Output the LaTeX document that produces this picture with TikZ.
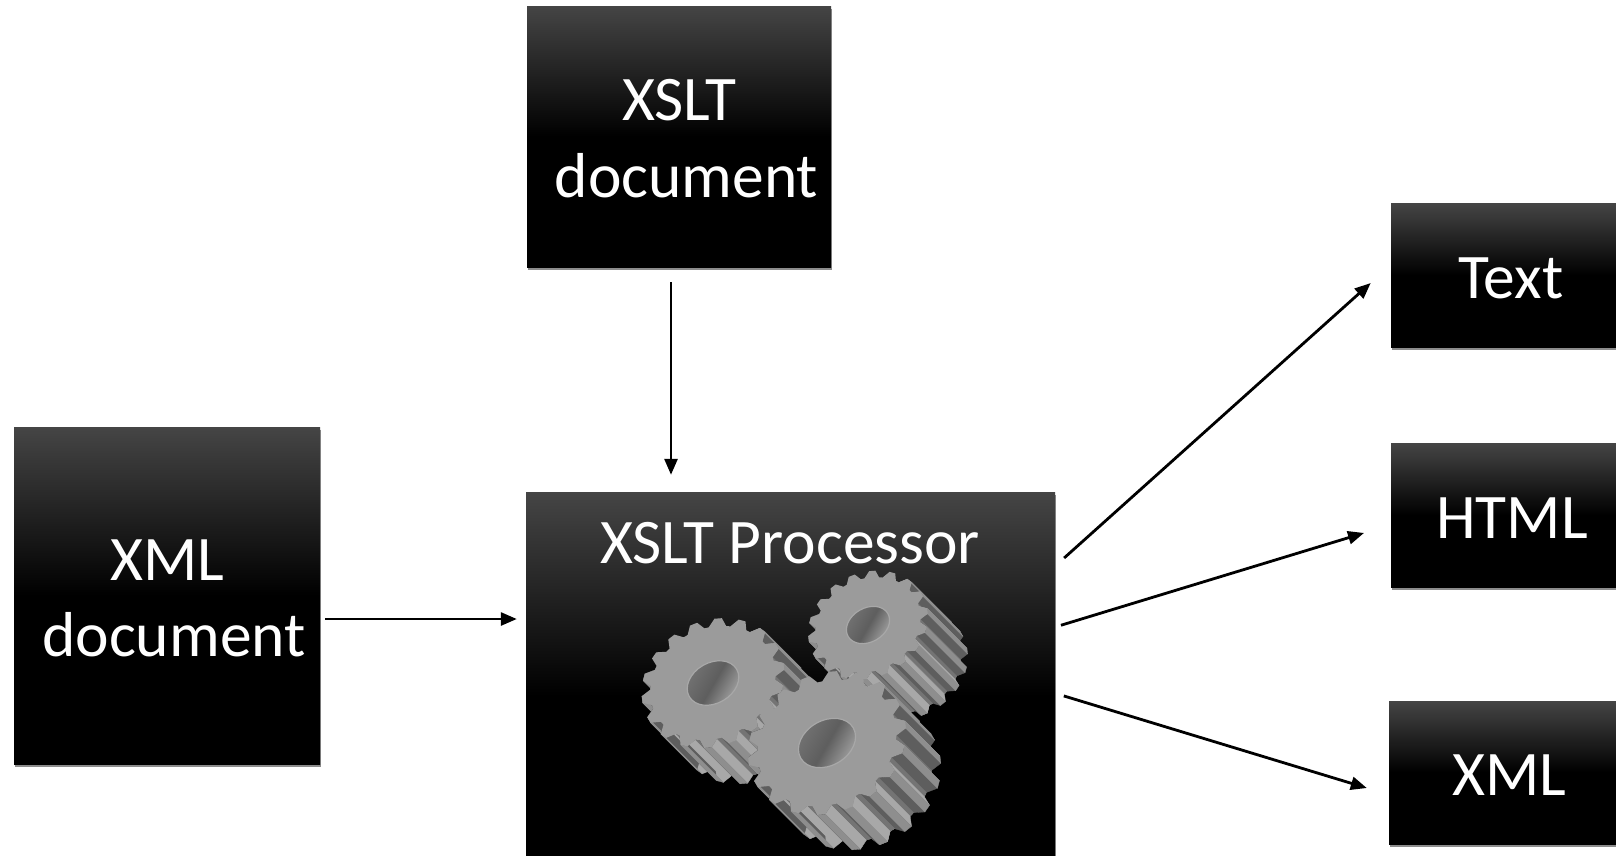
\documentclass[tikz,border=0pt]{standalone}
\usepackage{fontspec}
\setmainfont{Carlito}
\usetikzlibrary{arrows.meta,shadows}
\definecolor{boxtop}{HTML}{454545}
\definecolor{gearface}{HTML}{9B9B9B}
\definecolor{geartip}{HTML}{8E8E8E}
\definecolor{gearlight}{HTML}{A8A8A8}
\definecolor{geardark}{HTML}{5E5E5E}
\definecolor{gearvalley}{HTML}{747474}
\tikzset{
  docbox/.style={inner sep=0pt,top color=boxtop,bottom color=black,middle color=black,
    drop shadow={shadow xshift=1pt,shadow yshift=-3pt,opacity=.45,fill=black}},
  boxlabel/.style={anchor=base,inner sep=0pt,text=white,font=\fontsize{63.5}{63.5}\selectfont},
  flow/.style={line width=2.8pt,-{Stealth[length=16pt,width=13pt,inset=0pt]}},
  declare function={px(\t,\r)=\r*(.866*cos(\t)+.42*sin(\t));
                    py(\t,\r)=\r*(-.5*cos(\t)+.72*sin(\t));}
}
% one side wall of a gear
\newcommand{\gearwall}[5]{
  \filldraw[draw=#5,fill=#5,line width=.3pt,line join=round]
    ({px(#1,#2)},{py(#1,#2)}) -- ({px(#3,#4)},{py(#3,#4)})
    -- ({px(#3,#4)+\gd},{py(#3,#4)+\gd}) -- ({px(#1,#2)+\gd},{py(#1,#2)+\gd}) -- cycle;
}
% x, y, radius, depth
\newcommand{\drawgear}[4]{
  \begin{scope}[shift={(#1,#2)}]
  \pgfmathsetmacro{\rt}{#3}
  \pgfmathsetmacro{\rv}{.88*#3}
  \def\gd{#4}
  \foreach \j in {6,5,...,0} \foreach \sg in {-1,1} {
    \pgfmathsetmacro{\c}{100+\sg*\j*20}
    \gearwall{\c-12}{\rv}{\c-8}{\rv}{gearvalley}
    \gearwall{\c+8}{\rv}{\c+12}{\rv}{gearvalley}
    \gearwall{\c-8}{\rv}{\c-3}{\rt}{gearlight}
    \gearwall{\c+8}{\rv}{\c+3}{\rt}{geardark}
    \gearwall{\c-3}{\rt}{\c+3}{\rt}{geartip}
  }
  \fill[gearface] ({px(-8,\rv)},{py(-8,\rv)})
    \foreach \k in {0,...,17} {
      -- ({px(\k*20-8,\rv)},{py(\k*20-8,\rv)}) -- ({px(\k*20-3,\rt)},{py(\k*20-3,\rt)})
      -- ({px(\k*20+3,\rt)},{py(\k*20+3,\rt)}) -- ({px(\k*20+8,\rv)},{py(\k*20+8,\rv)})
    } -- cycle;
  % hole
  \draw[rotate=30,draw=gearlight,line width=1.2pt,shade,top color=gearlight,bottom color=gearvalley,
    middle color=geardark,shading angle=-120] (0,0) ellipse ({.37*#3} and {.274*#3});
  \end{scope}
}
\begin{document}
\begin{tikzpicture}[x=1pt,y=-1pt]
\clip (0,0) rectangle (1616,855);
\fill[white] (0,0) rectangle (1616,855);
\node[docbox,minimum width=304pt,minimum height=261pt] (xsltdoc) at (679,136.5) {};
\node[docbox,minimum width=306pt,minimum height=337pt] (xmldoc) at (167,595.5) {};
\node[docbox,minimum width=529pt,minimum height=408pt] (processor) at (790.5,696) {};
\node[docbox,minimum width=250pt,minimum height=144pt] (textout) at (1516,275) {};
\node[docbox,minimum width=250pt,minimum height=144pt] (htmlout) at (1516,515) {};
\node[docbox,minimum width=252pt,minimum height=143pt] (xmlout) at (1515,772.5) {};
% labels
\node[boxlabel] (xsltname) at (679.5,120) {XSLT};
\node[boxlabel] (xsltword) at (686.5,197) {document};
\node[boxlabel] (xmlname) at (167.5,580) {XML};
\node[boxlabel] (xmlword) at (174,656) {document};
\node[boxlabel] (procname) at (790,563) {XSLT Processor};
\node[boxlabel] (textname) at (1511,298) {Text};
\node[boxlabel] (htmlname) at (1512,538) {HTML};
\node[boxlabel] (xmlname2) at (1509,795) {XML};
% gears
\drawgear{868}{625}{62}{40}
\drawgear{713}{683}{74}{36}
\drawgear{827}{743}{82}{35}
% arrows
\draw[flow,shorten <=15pt,shorten >=17pt] ([xshift=-8pt]xsltdoc.south) -- ([xshift=-119.5pt]processor.north);
\draw[flow,shorten <=5pt,shorten >=9pt] ([yshift=-23.5pt]xmldoc.east) -- ([yshift=77pt]processor.west);
\draw[flow,shorten <=12pt,shorten >=27pt] ([yshift=130pt]processor.east) -- ([yshift=10pt]textout.west);
\draw[flow,shorten <=6pt,shorten >=28pt] ([yshift=69pt]processor.east) -- ([yshift=-9.8pt]htmlout.west);
\draw[flow,shorten <=9pt,shorten >=23pt] ([yshift=2.7pt]processor.east) -- ([yshift=-22.2pt]xmlout.west);
\end{tikzpicture}
\end{document}
